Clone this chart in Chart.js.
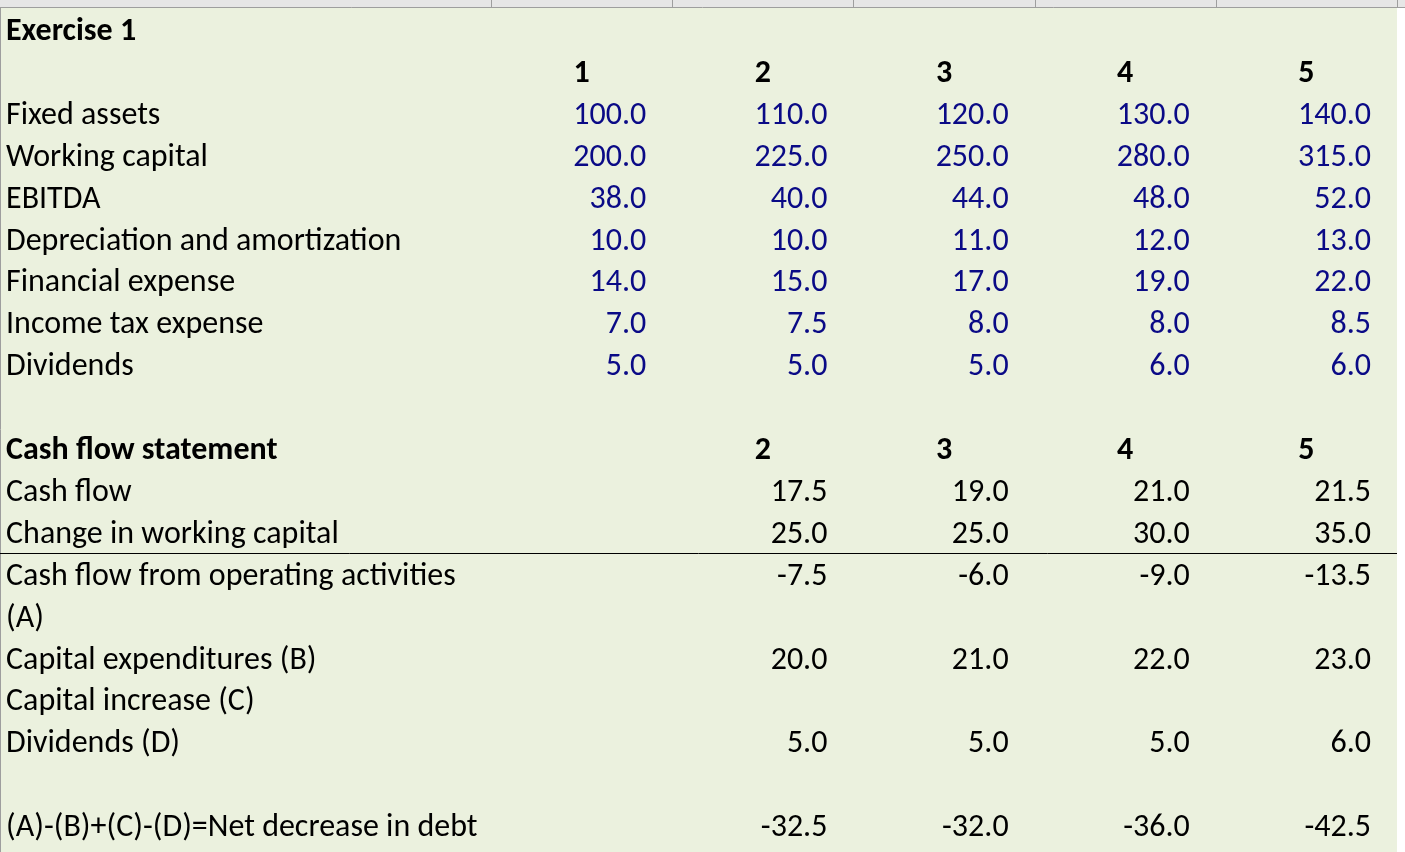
<!DOCTYPE html>
<html>
<head>
<meta charset="utf-8">
<script src="https://cdn.jsdelivr.net/npm/chart.js@4.4.1/dist/chart.umd.min.js"></script>
<style>
  html, body { margin: 0; padding: 0; background: #ffffff; }
  #wrap { width: 1405px; height: 852px; }
</style>
</head>
<body>
<div id="wrap"><canvas id="myChart" width="1405" height="852"></canvas></div>
<script>
// dados da planilha
const years = [1, 2, 3, 4, 5];
const fixedAssets = [100, 110, 120, 130, 140];
const workingCapital = [200, 225, 250, 280, 315];
const ebitda = [38, 40, 44, 48, 52];
const depreciation = [10, 10, 11, 12, 13];
const financialExpense = [14, 15, 17, 19, 22];
const incomeTax = [7, 7.5, 8, 8, 8.5];
const dividends = [5, 5, 5, 6, 6];

const cfYears = [2, 3, 4, 5];
const cashFlow = [17.5, 19, 21, 21.5];
const changeWorkingCapital = [25, 25, 30, 35];
const operatingCashFlow = [-7.5, -6, -9, -13.5];
const capex = [20, 21, 22, 23];
const capitalIncrease = [null, null, null, null];
const dividendsD = [5, 5, 5, 6];
const netDecreaseDebt = [-32.5, -32, -36, -42.5];

// textos da coluna A (uma linha por linha da planilha)
const rowLabels = [
    'Exercise 1', '', 'Fixed assets', 'Working capital', 'EBITDA',
    'Depreciation and amortization', 'Financial expense', 'Income tax expense', 'Dividends', '',
    'Cash flow statement', 'Cash flow', 'Change in working capital',
    'Cash flow from operating activities', '(A)', 'Capital expenditures (B)',
    'Capital increase (C)', 'Dividends (D)', '', '(A)-(B)+(C)-(D)=Net decrease in debt'
];
const boldRows = [0, 10];

const FONT = 'Carlito, "Liberation Sans Narrow", "Open Sans", sans-serif';
const BLUE = '#0a0a86';
const BLACK = '#000000';

// cada série vira um dataset de pontos invisíveis: x = coluna, y = linha
function serie(nome, valores, linha, colInicial, cor, tipo) {
    return {
        label: nome,
        data: valores.map((v, i) => ({ x: colInicial + i, y: linha, v: v })).filter(p => p.v !== null),
        pointRadius: 0,
        showLine: false,
        cor: cor,
        tipo: tipo
    };
}

const datasets = [
    serie('years', years, 1, 1, BLACK, 'header'),
    serie('Fixed assets', fixedAssets, 2, 1, BLUE),
    serie('Working capital', workingCapital, 3, 1, BLUE),
    serie('EBITDA', ebitda, 4, 1, BLUE),
    serie('Depreciation', depreciation, 5, 1, BLUE),
    serie('Financial expense', financialExpense, 6, 1, BLUE),
    serie('Income tax', incomeTax, 7, 1, BLUE),
    serie('Dividends', dividends, 8, 1, BLUE),
    serie('cfYears', cfYears, 10, 2, BLACK, 'header'),
    serie('Cash flow', cashFlow, 11, 2, BLACK),
    serie('Change WC', changeWorkingCapital, 12, 2, BLACK),
    serie('CFO', operatingCashFlow, 13, 2, BLACK),
    serie('Capex', capex, 15, 2, BLACK),
    serie('Capital increase', capitalIncrease, 16, 2, BLACK),
    serie('Dividends D', dividendsD, 17, 2, BLACK),
    serie('Net decrease', netDecreaseDebt, 19, 2, BLACK)
];

// escalas: 1 unidade x = largura de uma coluna de dados, 1 unidade y = uma linha
const colPx = 181.2;
const rowPx = 41.9;
const xMin = 0.5 - 491 / colPx;
const xMax = xMin + 1405 / colPx;
const yMin = -29 / rowPx;
const yMax = yMin + 852 / rowPx;

const planilhaPlugin = {
    id: 'planilha',
    beforeDraw(chart) {
        const c = chart.ctx;
        const x = chart.scales.x;
        const y = chart.scales.y;
        const direita = x.getPixelForValue(5.5);
        const topo = y.getPixelForValue(-0.5) - 1;

        c.save();
        c.fillStyle = '#ffffff';
        c.fillRect(0, 0, chart.width, chart.height);
        c.fillStyle = '#ebf1de';
        c.fillRect(0, topo, direita, chart.height - topo);

        // faixa cinza da linha de cima
        c.fillStyle = '#e6e6e6';
        c.fillRect(0, 0, chart.width, topo);
        c.strokeStyle = '#9e9e9e';
        c.lineWidth = 1;
        c.beginPath();
        c.moveTo(0, Math.round(topo) + 0.5);
        c.lineTo(chart.width, Math.round(topo) + 0.5);
        for (let k = 0; k <= 5; k++) {
            const px = Math.round(x.getPixelForValue(k + 0.5)) + 0.5;
            c.moveTo(px, 0);
            c.lineTo(px, topo);
        }
        c.moveTo(0.5, topo);
        c.lineTo(0.5, chart.height);
        c.stroke();

        // linha preta entre "Change in working capital" e "Cash flow from operating activities"
        const yl = Math.round(y.getPixelForValue(12.5)) + 0.5;
        c.strokeStyle = '#000000';
        c.beginPath();
        c.moveTo(0, yl);
        c.lineTo(direita, yl);
        c.stroke();
        c.restore();
    },
    afterDatasetsDraw(chart) {
        const c = chart.ctx;
        const x = chart.scales.x;
        const y = chart.scales.y;
        const tam = 32;
        const dy = 3;

        c.save();
        c.textBaseline = 'middle';

        // rótulos da coluna A
        rowLabels.forEach((txt, linha) => {
            if (!txt) return;
            c.font = (boldRows.includes(linha) ? 'bold ' : '') + tam + 'px ' + FONT;
            c.fillStyle = BLACK;
            c.textAlign = 'left';
            c.fillText(txt, x.left + 6, y.getPixelForValue(linha) + dy);
        });

        // valores
        chart.data.datasets.forEach((ds, i) => {
            const meta = chart.getDatasetMeta(i);
            meta.data.forEach((pt, j) => {
                const raw = ds.data[j];
                c.fillStyle = ds.cor;
                if (ds.tipo === 'header') {
                    c.font = 'bold ' + tam + 'px ' + FONT;
                    c.textAlign = 'center';
                    c.fillText(String(raw.v), pt.x, pt.y + dy);
                } else {
                    c.font = tam + 'px ' + FONT;
                    c.textAlign = 'right';
                    const xr = x.getPixelForValue(raw.x + 0.5) - 26;
                    c.fillText(raw.v.toFixed(1), xr, pt.y + dy);
                }
            });
        });
        c.restore();
    }
};

const ctx = document.getElementById('myChart');
const myChart = new Chart(ctx, {
    type: 'scatter',
    data: { datasets: datasets },
    options: {
        responsive: false,
        animation: false,
        devicePixelRatio: 1,
        layout: { padding: 0 },
        events: [],
        scales: {
            x: { type: 'linear', display: false, min: xMin, max: xMax },
            y: { type: 'linear', display: false, reverse: true, min: yMin, max: yMax }
        },
        plugins: {
            legend: { display: false },
            tooltip: { enabled: false }
        }
    },
    plugins: [planilhaPlugin]
});
</script>
</body>
</html>
